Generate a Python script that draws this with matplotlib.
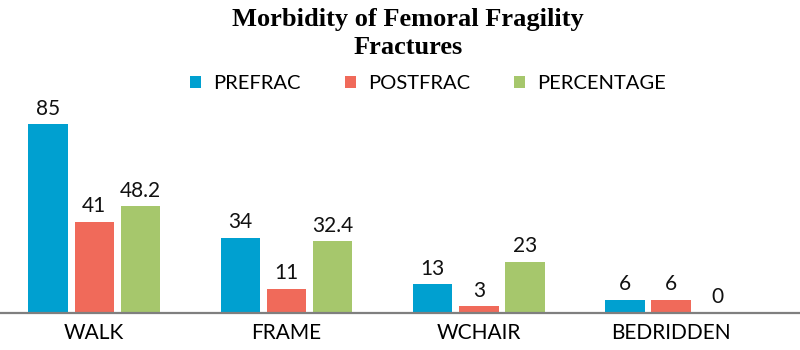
import numpy as np
import matplotlib.pyplot as plt

plt.rcParams.update({
    'font.family': 'Lato',
})

CATEGORIES = ['WALK', 'FRAME', 'WCHAIR', 'BEDRIDDEN']
SERIES     = ['PREFRAC', 'POSTFRAC', 'PERCENTAGE']
PREFRAC    = [85, 34, 13, 6]
POSTFRAC   = [41, 11, 3, 6]
PERCENTAGE = [48.2, 32.4, 23, 0]
COLORS     = ['#00a0d0', '#f06a5a', '#a6c76c']

fig = plt.figure(figsize=(8, 3.5), dpi=100)
ax = fig.add_axes([0, 0.106, 1, 0.608])

x = np.arange(len(CATEGORIES))
step, width = 0.24, 0.205
for i, (name, vals) in enumerate(zip(SERIES, [PREFRAC, POSTFRAC, PERCENTAGE])):
    pos = x + (i - 1) * step
    ax.bar(pos, vals, width, color=COLORS[i], label=name)
    for p, v in zip(pos, vals):
        ax.text(p, v + 2.5, f'{v:g}', ha='center', va='bottom', fontsize=15, color='#111111')

ax.set_xlim(-0.49, 3.67)
ax.set_ylim(0, 96)
ax.set_yticks([])
ax.set_xticks(x)
ax.set_xticklabels(CATEGORIES, fontsize=15)
ax.tick_params(axis='x', length=0, pad=7)
for s in ['top', 'right', 'left']:
    ax.spines[s].set_visible(False)
ax.spines['bottom'].set_color('#7f7f7f')
ax.spines['bottom'].set_linewidth(1.6)

fig.text(0.51, 0.905, 'Morbidity of Femoral Fragility\nFractures', ha='center', va='center',
         fontsize=19, fontweight='bold', family='Liberation Serif', linespacing=1.3)
fig.legend(loc='center', bbox_to_anchor=(0.535, 0.762), ncol=3, frameon=False,
           fontsize=14.5, handlelength=0.55, handleheight=0.55, columnspacing=2.2, handletextpad=0.6)

fig.savefig('out.png', dpi=100)
